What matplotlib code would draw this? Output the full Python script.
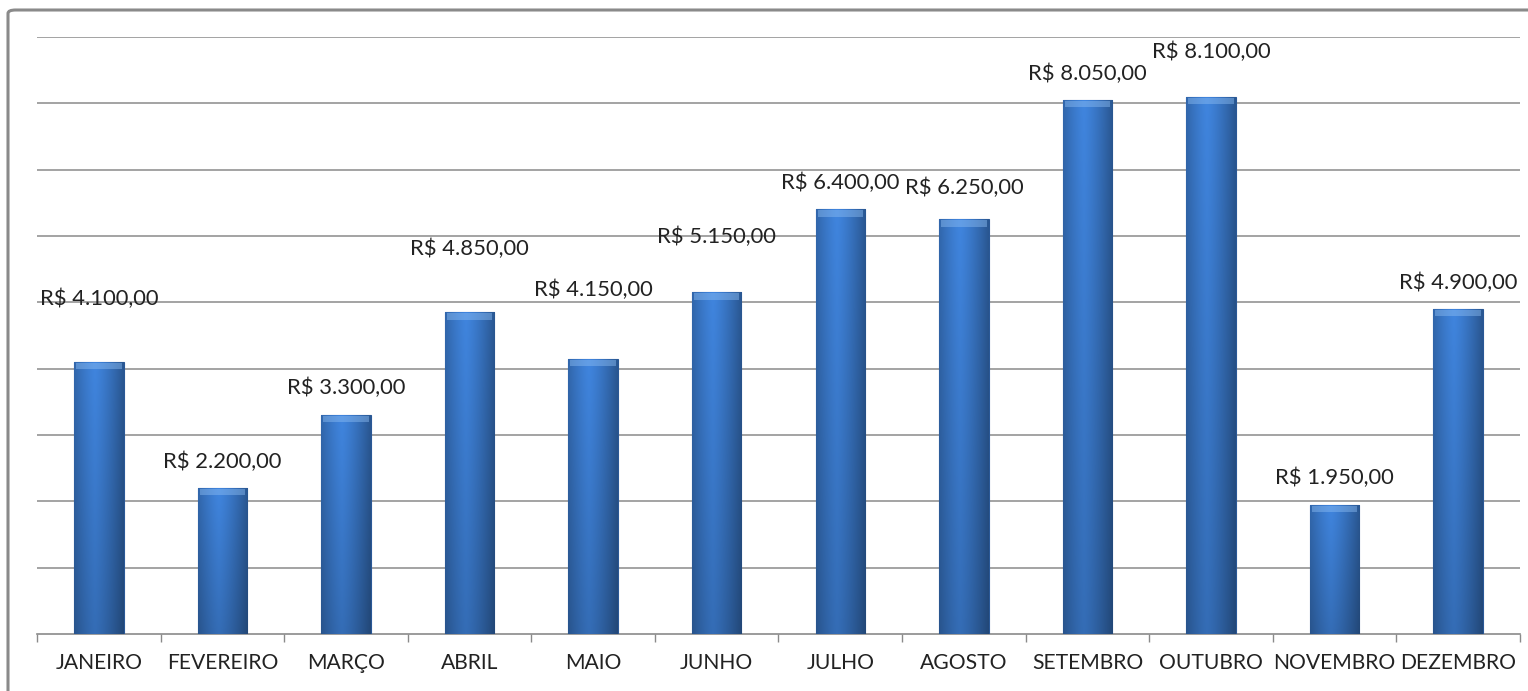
import matplotlib.pyplot as plt
import numpy as np
from matplotlib.patches import FancyBboxPatch

# data
meses = ["JANEIRO", "FEVEREIRO", "MARÇO", "ABRIL", "MAIO", "JUNHO",
         "JULHO", "AGOSTO", "SETEMBRO", "OUTUBRO", "NOVEMBRO", "DEZEMBRO"]
valores = [4100, 2200, 3300, 4850, 4150, 5150, 6400, 6250, 8050, 8100, 1950, 4900]

# label offsets above each bar (pixels), labels were dragged around in the original
label_dy = [63, 26, 27, 63, 69, 55, 27, 32, 26, 45, 27, 26]


def brl(v):
    s = f"{v:,.2f}".replace(",", "X").replace(".", ",").replace("X", ".")
    return f"R$ {s}"


def bar_gradient(n=60):
    # horizontal shading: dark edges, bright left-center
    x = np.linspace(0, 1, n)
    shade = 1 - 0.35 * np.abs(x - 0.42) ** 1.3 * 2
    y = np.linspace(0, 1, n)[:, None]
    vert = 0.82 + 0.18 * y  # darker towards the bottom
    base = np.array([0.25, 0.52, 0.87])
    img = base[None, None, :] * (shade[None, :, None] * vert[:, :, None])
    return np.clip(img, 0, 1)


def main():
    plt.rcParams['font.family'] = ['Lato', 'DejaVu Sans']
    fig = plt.figure(figsize=(15.28, 6.91), dpi=100)
    ax = fig.add_axes([37 / 1528, 1 - 634 / 691, (1520 - 37) / 1528, (634 - 37) / 691])

    x = np.arange(len(meses))
    bars = ax.bar(x, valores, width=0.4, color="#3a78c9", edgecolor="#2a5896",
                  linewidth=0.8, zorder=3)

    grad = bar_gradient()
    for b in bars:
        x0, w, h = b.get_x(), b.get_width(), b.get_height()
        im = ax.imshow(grad, extent=[x0, x0 + w, 0, h], origin="lower",
                       aspect="auto", zorder=3.5, interpolation="bicubic")
        im.set_clip_path(b)
        # light bevel at the top
        ax.fill_between([x0 + w * 0.04, x0 + w * 0.96], h - 110, h - 15,
                        color="#8dbdf2", alpha=0.45, zorder=4, linewidth=0)

    for xi, v, dy in zip(x, valores, label_dy):
        ax.annotate(brl(v), (xi, v), xytext=(0, dy), textcoords="offset pixels",
                    ha="center", va="center", fontsize=15.8, color="#222222", zorder=5)

    ax.set_xlim(-0.5, len(meses) - 0.5)
    ax.set_ylim(0, 9000)
    ax.set_yticks(np.arange(1000, 9001, 1000))
    ax.yaxis.grid(True, color="#8a8a8a", linewidth=1.1, zorder=0)
    ax.tick_params(axis="y", left=False, labelleft=False)

    ax.set_xticks(x)
    ax.set_xticklabels(meses, fontsize=15.2, color="#222222")
    ax.set_xticks(np.arange(-0.5, len(meses)), minor=True)
    ax.tick_params(axis="x", which="major", length=0, pad=14)
    ax.tick_params(axis="x", which="minor", length=6, color="#8a8a8a", width=1)

    for s in ["left", "right", "top"]:
        ax.spines[s].set_visible(False)
    ax.spines["bottom"].set_color("#8a8a8a")
    ax.spines["bottom"].set_linewidth(1.2)

    # chart frame, cut off at the right and bottom like the screenshot
    frame = FancyBboxPatch((8 / 1528, -0.05), 1.1, 1 - 10 / 691 + 0.05,
                           boxstyle="round,pad=0,rounding_size=0.005",
                           transform=fig.transFigure, fill=False,
                           edgecolor="#8a8a8a", linewidth=2.2, clip_on=False)
    fig.patches.append(frame)

    fig.savefig("out.png", dpi=100)
    plt.close(fig)


main()
